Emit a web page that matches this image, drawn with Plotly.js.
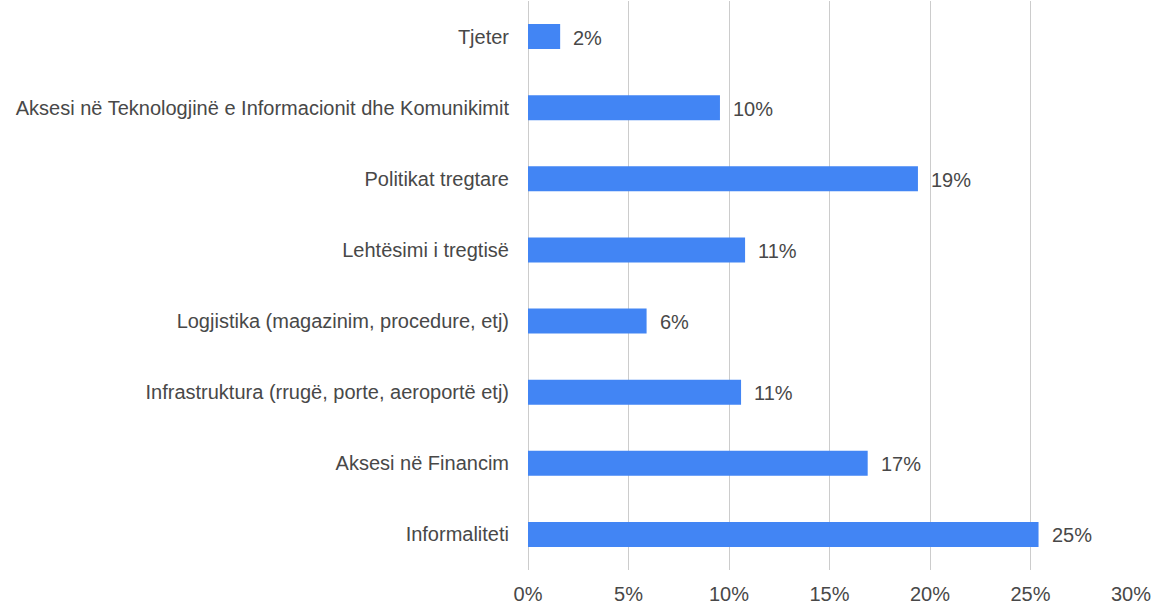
<!DOCTYPE html>
<html>
<head>
<meta charset="utf-8">
<script src="https://cdn.plot.ly/plotly-3.0.1.min.js"></script>
<style>
  html, body { margin: 0; padding: 0; background: #fff; }
  #chart { width: 1153px; height: 605px; }
</style>
</head>
<body>
<div id="chart"></div>
<script>
// categories listed top to bottom as in the picture
const categories = [
  "Tjeter",
  "Aksesi në Teknologjinë e Informacionit dhe Komunikimit",
  "Politikat tregtare",
  "Lehtësimi i tregtisë",
  "Logjistika (magazinim, procedure, etj)",
  "Infrastruktura (rrugë, porte, aeroportë etj)",
  "Aksesi në Financim",
  "Informaliteti"
];
const shares = [1.6, 9.55, 19.4, 10.8, 5.9, 10.6, 16.9, 25.4];
const valueLabels = ["2%", "10%", "19%", "11%", "6%", "11%", "17%", "25%"];
const tickVals = [0, 5, 10, 15, 20, 25, 30];
const tickText = ["0%", "5%", "10%", "15%", "20%", "25%", "30%"];

const barColor = "#4285F4";
const textColor = "#484848";
const fontFamily = "Liberation Sans, Arial, sans-serif";

function drawChart() {
  const trace = {
    type: "bar",
    orientation: "h",
    x: shares,
    y: categories,
    marker: { color: barColor },
    hoverinfo: "none"
  };

  const annotations = categories.map((c, i) => ({
    x: shares[i],
    y: c,
    xref: "x",
    yref: "y",
    text: valueLabels[i],
    showarrow: false,
    xanchor: "left",
    xshift: 11,
    yshift: -1,
    font: { family: fontFamily, size: 20, color: textColor }
  }));

  const layout = {
    width: 1153,
    height: 605,
    margin: { l: 528, r: 22, t: 1, b: 35 },
    paper_bgcolor: "#ffffff",
    plot_bgcolor: "#ffffff",
    showlegend: false,
    bargap: 0.65,
    font: { family: fontFamily, size: 20, color: textColor },
    xaxis: {
      range: [0, 30],
      tickvals: tickVals,
      ticktext: tickText,
      showgrid: true,
      gridcolor: "#cccccc",
      gridwidth: 1,
      zeroline: true,
      zerolinecolor: "#cccccc",
      zerolinewidth: 1,
      showline: false,
      ticks: "",
      ticklabelstandoff: 10,
      fixedrange: true
    },
    yaxis: {
      autorange: "reversed",
      showgrid: false,
      zeroline: false,
      showline: false,
      ticks: "outside",
      ticklen: 14,
      tickcolor: "rgba(0,0,0,0)",
      fixedrange: true
    },
    annotations: annotations
  };

  Plotly.newPlot("chart", [trace], layout, { displayModeBar: false, staticPlot: true });
}

drawChart();
</script>
</body>
</html>
